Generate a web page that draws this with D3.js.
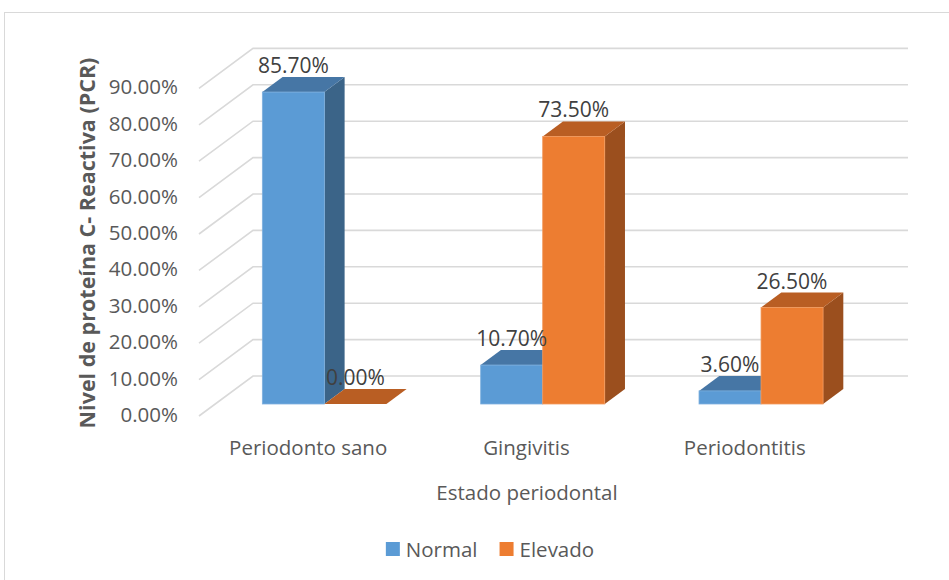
<!DOCTYPE html>
<html>
<head>
<meta charset="utf-8">
<script src="https://cdn.jsdelivr.net/npm/d3@7"></script>
<style>
  html, body { margin: 0; padding: 0; background: #fff; }
  svg { display: block; font-family: "Open Sans", sans-serif; }
</style>
</head>
<body>
<svg id="chart" width="949" height="580"></svg>
<script>
// Periodontal status vs. C-reactive protein level
const categories = ["Periodonto sano", "Gingivitis", "Periodontitis"];
const seriesNames = ["Normal", "Elevado"];
const normalValues = [85.7, 10.7, 3.6];
const elevadoValues = [0.0, 73.5, 26.5];
const tickValues = [0, 10, 20, 30, 40, 50, 60, 70, 80, 90];
const yTitle = "Nivel de proteína C- Reactiva (PCR)";
const xTitle = "Estado periodontal";

const palette = {
  Normal:  { front: "#5B9BD5", top: "#4676A5", side: "#3B6488", edge: "#7fb0de" },
  Elevado: { front: "#ED7D31", top: "#B95E23", side: "#9B4F1E", edge: "#f29a5c" }
};

const svg = d3.select("#chart");
const textSize = 20.5;

// outer frame
svg.append("rect")
  .attr("x", 4.5).attr("y", 12.5)
  .attr("width", 960).attr("height", 600)
  .attr("fill", "none").attr("stroke", "#d9d9d9").attr("stroke-width", 1);

// oblique 3D projection: front plane base at y0, depth offset (dxDepth, dyDepth)
const frontLeft = 199, frontRight = 854, y0 = 416;
const dxDepth = 54, dyDepth = 40;
const barZ0 = 0.3, barZ1 = 0.675;

const y = d3.scaleLinear().domain([0, 90]).range([0, 327.6]);
const x = d3.scaleBand().domain(categories).range([frontLeft, frontRight]).padding(0);
const xs = d3.scaleBand().domain(seriesNames).range([0, x.bandwidth()]).paddingInner(0).paddingOuter(0.76);

const P = (px, v, z) => [px + z * dxDepth, y0 - y(v) - z * dyDepth];

// gridlines: side wall diagonals + back wall horizontals
const grid = svg.append("g");
tickValues.forEach(t => {
  const a = P(frontLeft, t, 0), b = P(frontLeft, t, 1), c = P(frontRight, t, 1);
  grid.append("polyline")
    .attr("points", [a, b, c].map(p => p.join(",")).join(" "))
    .attr("fill", "none").attr("stroke", "#d9d9d9").attr("stroke-width", 1.6);
});

// tick labels
const fmt = d3.format(".2%");
svg.append("g").selectAll("text").data(tickValues).join("text")
  .attr("x", frontLeft - 21)
  .attr("y", d => P(frontLeft, d, 0)[1] - 2)
  .attr("text-anchor", "end")
  .attr("dominant-baseline", "central")
  .attr("fill", "#595959")
  .attr("font-size", textSize)
  .text(d => fmt(d / 100));

// bars
const bars = [];
categories.forEach((c, i) => {
  bars.push({ cat: c, s: "Normal", v: normalValues[i] });
  bars.push({ cat: c, s: "Elevado", v: elevadoValues[i] });
});

const barG = svg.append("g");
const poly = pts => pts.map(p => p.join(",")).join(" ");
bars.forEach(d => {
  const xl = x(d.cat) + xs(d.s), xr = xl + xs.bandwidth();
  const col = palette[d.s];
  const g = barG.append("g");
  // side face
  g.append("polygon")
    .attr("points", poly([P(xr, 0, barZ0), P(xr, 0, barZ1), P(xr, d.v, barZ1), P(xr, d.v, barZ0)]))
    .attr("fill", col.side);
  // top face
  g.append("polygon")
    .attr("points", poly([P(xl, d.v, barZ0), P(xl, d.v, barZ1), P(xr, d.v, barZ1), P(xr, d.v, barZ0)]))
    .attr("fill", col.top);
  // front face
  const f0 = P(xl, d.v, barZ0), f1 = P(xr, 0, barZ0);
  g.append("rect")
    .attr("x", f0[0]).attr("y", f0[1])
    .attr("width", f1[0] - f0[0]).attr("height", Math.max(0, f1[1] - f0[1]))
    .attr("fill", col.front)
    .attr("stroke", col.edge).attr("stroke-width", d.v > 0 ? 0.8 : 0);
});

// data labels
svg.append("g").selectAll("text").data(bars).join("text")
  .attr("x", d => x(d.cat) + xs(d.s) + xs.bandwidth() / 2 + barZ0 * dxDepth)
  .attr("y", d => P(0, d.v, barZ1)[1] - 4)
  .attr("text-anchor", "middle")
  .attr("fill", "#404040")
  .attr("font-size", 21)
  .text(d => fmt(d.v / 100));

// category labels
svg.append("g").selectAll("text").data(categories).join("text")
  .attr("x", d => x(d) + x.bandwidth() / 2)
  .attr("y", 447)
  .attr("text-anchor", "middle")
  .attr("dominant-baseline", "central")
  .attr("fill", "#595959")
  .attr("font-size", textSize)
  .text(d => d);

// axis titles
svg.append("text")
  .attr("x", 527).attr("y", 492)
  .attr("text-anchor", "middle").attr("dominant-baseline", "central")
  .attr("fill", "#595959").attr("font-size", textSize)
  .text(xTitle);

svg.append("text")
  .attr("transform", "translate(86,243) rotate(-90)")
  .attr("text-anchor", "middle").attr("dominant-baseline", "central")
  .attr("fill", "#595959").attr("font-size", 21.5).attr("font-weight", "bold")
  .text(yTitle);

// legend
const legend = svg.append("g");
let lx = 0;
seriesNames.forEach(s => {
  const it = legend.append("g");
  it.append("rect").attr("x", 0).attr("y", -7).attr("width", 14).attr("height", 14)
    .attr("fill", palette[s].front);
  const t = it.append("text").attr("x", 20).attr("y", 0)
    .attr("dominant-baseline", "central")
    .attr("fill", "#595959").attr("font-size", textSize).text(s);
  const w = 20 + t.node().getComputedTextLength();
  it.attr("transform", `translate(${lx},0)`);
  lx += w + 22;
});
const legendWidth = lx - 22;
legend.attr("transform", `translate(${490 - legendWidth / 2},549)`);
</script>
</body>
</html>
